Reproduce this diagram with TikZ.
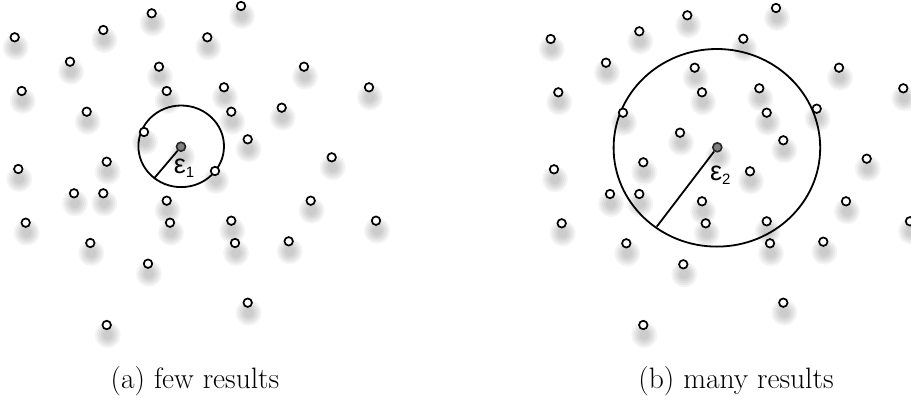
\documentclass[tikz,border=0pt]{standalone}
\usepackage{fontspec}
\newfontfamily\epsfont{Liberation Sans}
\begin{document}
\begin{tikzpicture}[x=1pt,y=-1pt,
  pt/.style={circle,draw=black,line width=1.7pt,fill=white,minimum size=8.5pt,inner sep=0pt},
  qpt/.style={circle,draw=black!85,line width=1.6pt,fill=black!50,minimum size=9pt,inner sep=0pt},
  shadowdisc/.style={fill=black,opacity=0.045},
  ring/.style={line width=1.8pt,draw=black},
  epslabel/.style={inner sep=0pt,font=\epsfont\fontsize{27}{27}\selectfont},
  captext/.style={inner sep=0pt,font=\fontsize{29.5}{34}\selectfont}]
\useasboundingbox (0,0) rectangle (911,408);
% shadows
\foreach \x/\y in {14.7/37.3,103.3/30,151.7/13.3,241/6,207.3/37.3,70/61.7,159/66.7,304/66.7,
  21.7/91,166.7/91,224/87.3,369/87.3,86.7/111.7,231.3/111.7,281.7/107.7,144/132,247.7/139.3,
  18.3/169,106.7/161.7,215/171,331.7/157.3,74/193.3,103.3/193.3,166.7/200.7,310.7/200.7,
  25.7/222.7,170/222.7,231.3/220.7,376/220.7,90.3/243,235/243,288.7/241.3,148/263.7,
  247.7/302.7,106.7/325,181/146.7,
  550.7/39,639.3/31.3,687.3/15.3,776/8,743.3/38.7,606/62.7,694.7/67.7,839/67.7,
  558.3/92.3,702/92.3,759.3/88.3,903.3/88.3,623/112.7,766.7/112.7,816.7/108.7,680/132.7,783.3/140.3,
  554/169.3,643.3/162.3,750/171.3,866.7/158.7,610/194,639.3/194,702/201.3,846/201.3,
  561.7/223.3,705.7/223.3,766.7/221.3,910/221.3,626.3/243.3,770/243.3,823.3/241.7,683.3/264.3,
  783.3/302.7,643.3/325,717.3/147.3}{
  \foreach \r in {13,11,9,7,5}
    \fill[shadowdisc] (\x+1,\y+10) circle[radius=\r pt];
}
% query points and range circles
\coordinate (o1) at (181.2,146.3);
\coordinate (o2) at (716.9,147.8);
\draw[ring] (o1) ellipse[x radius=42.8pt, y radius=40.8pt];
\draw[ring] (o2) ellipse[x radius=103.3pt, y radius=98.8pt];
% data points, left
\foreach \x/\y [count=\i] in {14.7/37.3,103.3/30,151.7/13.3,241/6,207.3/37.3,70/61.7,159/66.7,304/66.7,
  21.7/91,166.7/91,224/87.3,369/87.3,86.7/111.7,231.3/111.7,281.7/107.7,144/132,247.7/139.3,
  18.3/169,106.7/161.7,215/171,331.7/157.3,74/193.3,103.3/193.3,166.7/200.7,310.7/200.7,
  25.7/222.7,170/222.7,231.3/220.7,376/220.7,90.3/243,235/243,288.7/241.3,148/263.7,
  247.7/302.7,106.7/325}{
  \node[pt] (a\i) at (\x,\y) {};
}
% data points, right
\foreach \x/\y [count=\i] in {550.7/39,639.3/31.3,687.3/15.3,776/8,743.3/38.7,606/62.7,694.7/67.7,839/67.7,
  558.3/92.3,702/92.3,759.3/88.3,903.3/88.3,623/112.7,766.7/112.7,816.7/108.7,680/132.7,783.3/140.3,
  554/169.3,643.3/162.3,750/171.3,866.7/158.7,610/194,639.3/194,702/201.3,846/201.3,
  561.7/223.3,705.7/223.3,766.7/221.3,910/221.3,626.3/243.3,770/243.3,823.3/241.7,683.3/264.3,
  783.3/302.7,643.3/325}{
  \node[pt] (b\i) at (\x,\y) {};
}
% query centres
\node[qpt] (c1) at (181,146.7) {};
\node[qpt] (c2) at (717.3,147.3) {};
% radii
\coordinate (e1) at (154,178.5);
\coordinate (e2) at (656.7,226.7);
\draw[ring] (c1) -- (e1);
\draw[ring] (c2) -- (e2);
% labels
\node[epslabel] (l1) at (184,168) {ε\raisebox{-4pt}{\fontsize{15}{15}\selectfont 1}};
\node[epslabel] (l2) at (720.3,175.3) {ε\raisebox{-4pt}{\fontsize{15}{15}\selectfont 2}};
% captions
\node[captext] (capa) at (195,381) {(a) few results};
\node[captext] (capb) at (736,381) {(b) many results};
\end{tikzpicture}
\end{document}
